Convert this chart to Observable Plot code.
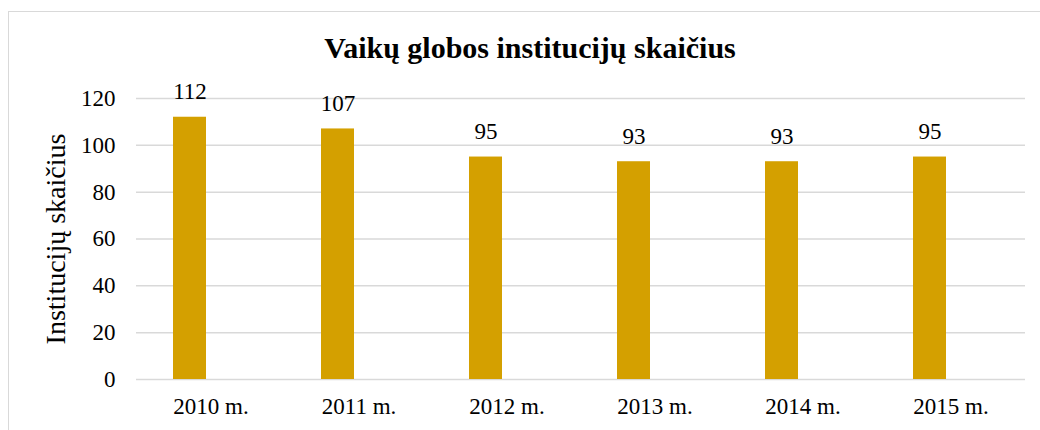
<!DOCTYPE html>
<html><head><meta charset="utf-8">
<script src="https://cdn.jsdelivr.net/npm/d3@7"></script>
<script src="https://cdn.jsdelivr.net/npm/@observablehq/plot@0.6"></script>
<style>
body{margin:0;background:#fff;}
#wrap{position:relative;width:1040px;height:430px;overflow:hidden;font-family:"Liberation Serif","Times New Roman",serif;}
#frame{position:absolute;left:8px;top:11px;width:1100px;height:500px;border:1px solid #d9d9d9;box-sizing:border-box;}
#title{position:absolute;left:0;top:0;width:1060px;height:75px;text-align:center;font-weight:bold;font-size:30px;line-height:75px;padding-top:10px;box-sizing:border-box;color:#000;}
#chart{position:absolute;left:0;top:75px;}
#chart svg, #chart svg text{font-family:"Liberation Serif","Times New Roman",serif !important;}
#chart svg text{font-size:23px;}
#chart g[aria-label="y-axis label"] text{font-size:28px;}
</style></head><body>
<div id="wrap"><div id="frame"></div><div id="title">Vaikų globos institucijų skaičius</div><div id="chart"></div></div>
<script>
const years = ["2010 m.","2011 m.","2012 m.","2013 m.","2014 m.","2015 m."];
const counts = [112,107,95,93,93,95];
const yTicks = [0,20,40,60,80,100,120];
const data = years.map((y,i)=>({year:y,value:counts[i]}));
const barColor = "#D4A000";
const serif = "Liberation Serif";
const chart = Plot.plot({
  width:1040, height:355,
  marginLeft:136, marginRight:15, marginTop:23, marginBottom:51,
  style:{fontSize:"23px", color:"#000", background:"transparent"},
  x:{domain:years, paddingInner:0.777, paddingOuter:0.3885, label:null},
  y:{domain:[0,120], ticks:yTicks, label:"Institucijų skaičius"},
  marks:[
    Plot.gridY(yTicks,{stroke:"#d9d9d9", strokeOpacity:1, strokeWidth:1.5}),
    Plot.axisY({ticks:yTicks, tickSize:0, tickPadding:21, label:"Institucijų skaičius", labelAnchor:"center", labelArrow:"none", labelOffset:91, fontFamily:serif}),
    Plot.axisX({tickSize:0, tickPadding:18, fontFamily:serif}),
    Plot.barY(data,{x:"year", y:"value", fill:barColor, dx:-21}),
    Plot.text(data,{x:"year", y:"value", text:d=>String(d.value), dx:-21, dy:-18, lineAnchor:"bottom", fontFamily:serif, fill:"#000"})
  ]
});
document.getElementById("chart").appendChild(chart);
</script></body></html>
